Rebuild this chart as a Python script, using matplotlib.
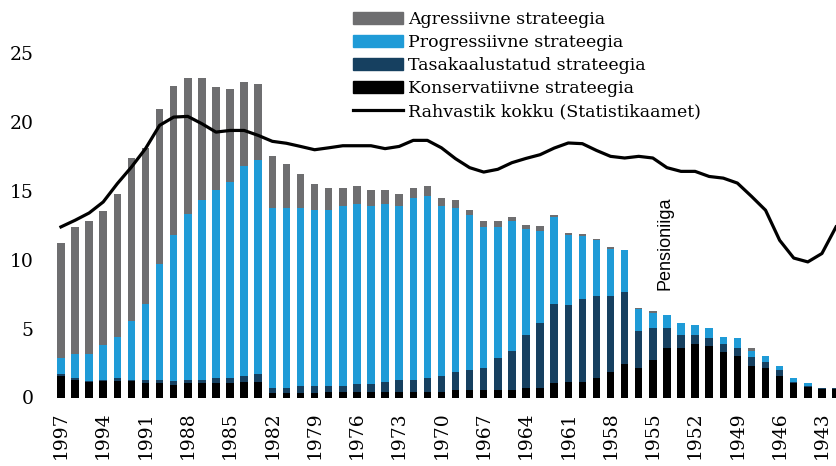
import numpy as np
import matplotlib.pyplot as plt
from matplotlib.patches import Patch
from matplotlib.lines import Line2D

# sünniaastad 1997 ... 1942
years = list(range(1997, 1941, -1))

konservatiivne = [1.56, 1.27, 1.15, 1.20, 1.20, 1.20, 1.03, 1.03, 0.92, 1.03,
                  1.03, 1.03, 1.03, 1.15, 1.15, 0.30, 0.30, 0.30, 0.30, 0.37,
                  0.41, 0.41, 0.41, 0.41, 0.41, 0.41, 0.41, 0.41, 0.53, 0.53,
                  0.53, 0.53, 0.53, 0.71, 0.71, 1.03, 1.15, 1.15, 1.44, 1.87,
                  2.43, 2.11, 2.72, 3.56, 3.56, 3.85, 3.73, 3.27, 3.03, 2.31,
                  2.11, 1.56, 1.03, 0.74, 0.59, 0.59]
tasakaalustatud = [0.14, 0.12, 0.07, 0.07, 0.24, 0.07, 0.24, 0.24, 0.28, 0.24,
                   0.24, 0.41, 0.41, 0.44, 0.55, 0.41, 0.41, 0.53, 0.53, 0.46,
                   0.42, 0.57, 0.57, 0.71, 0.86, 0.86, 1.00, 1.15, 1.32, 1.46,
                   1.58, 2.31, 2.86, 3.82, 4.71, 5.79, 5.55, 5.99, 5.96, 5.53,
                   5.24, 2.73, 2.29, 1.45, 0.97, 0.68, 0.56, 0.58, 0.53, 0.65,
                   0.44, 0.43, 0.12, 0.12, 0.08, 0.08]
progressiivne = [1.14, 1.74, 1.91, 2.53, 2.97, 4.27, 5.55, 8.40, 10.58, 12.03,
                 13.09, 13.64, 14.20, 15.19, 15.50, 13.07, 13.07, 12.95, 12.81, 12.81,
                 13.10, 13.09, 12.95, 12.95, 12.66, 13.23, 13.24, 12.37, 11.93, 11.23,
                 10.27, 9.54, 9.40, 7.68, 6.65, 6.28, 5.08, 4.56, 4.01, 3.41,
                 3.02, 1.55, 1.09, 0.97, 0.89, 0.72, 0.72, 0.56, 0.73, 0.45,
                 0.45, 0.32, 0.27, 0.16, 0.00, 0.00]
agressiivne = [8.40, 9.25, 9.66, 9.71, 10.39, 11.84, 11.31, 11.23, 10.86, 9.90,
               8.84, 7.42, 6.72, 6.15, 5.57, 3.72, 3.14, 2.46, 1.88, 1.59,
               1.30, 1.28, 1.11, 0.97, 0.87, 0.73, 0.70, 0.57, 0.58, 0.42,
               0.41, 0.41, 0.31, 0.34, 0.36, 0.12, 0.16, 0.15, 0.12, 0.12,
               0.03, 0.14, 0.17, 0.00, 0.00, 0.00, 0.00, 0.00, 0.00, 0.15,
               0.00, 0.00, 0.00, 0.00, 0.00, 0.00]
rahvastik = [12.38, 12.86, 13.39, 14.19, 15.52, 16.72, 18.06, 19.75, 20.35, 20.40,
             19.87, 19.26, 19.38, 19.38, 19.02, 18.59, 18.45, 18.22, 17.98, 18.12,
             18.27, 18.27, 18.27, 18.06, 18.22, 18.66, 18.66, 18.12, 17.33, 16.68,
             16.36, 16.56, 17.04, 17.35, 17.62, 18.10, 18.47, 18.42, 17.93, 17.50,
             17.38, 17.50, 17.38, 16.68, 16.41, 16.41, 16.04, 15.92, 15.56, 14.60,
             13.59, 11.41, 10.12, 9.84, 10.45, 12.38]

c_agr = "#6e6e70"
c_prog = "#1f9bd7"
c_tasa = "#164060"
c_kons = "#000000"

plt.rcParams["font.family"] = "DejaVu Serif"

x = np.arange(len(years))
fig = plt.figure(figsize=(8.37, 4.66), dpi=100)
ax = fig.add_axes([46 / 837, 68.5 / 466, 791 / 837, 344.5 / 466])

w = 0.53
bottom = np.zeros(len(years))
for vals, col in [(konservatiivne, c_kons), (tasakaalustatud, c_tasa),
                  (progressiivne, c_prog), (agressiivne, c_agr)]:
    ax.bar(x, vals, w, bottom=bottom, color=col, linewidth=0)
    bottom += np.array(vals)

ax.plot(x, rahvastik, color="black", linewidth=2.3, solid_joinstyle="round")

ax.text(42.9, 11.16, "Pensioniiga", rotation=90, ha="center", va="center",
        family="Liberation Sans", fontsize=13)

ax.set_xlim(-1.06, 55.07)
ax.set_ylim(0, 25)
ax.set_yticks(range(0, 26, 5))
ax.set_xticks(x[::3])
ax.set_xticklabels([str(y) for y in years[::3]], rotation=90)
ax.tick_params(axis="x", length=0, pad=10, labelsize=13.5)
ax.tick_params(axis="y", length=0, pad=9, labelsize=13.5)
for s in ax.spines.values():
    s.set_visible(False)

handles = [Patch(color=c_agr), Patch(color=c_prog), Patch(color=c_tasa),
           Patch(color=c_kons), Line2D([], [], color="black", linewidth=2.3)]
labels = ["Agressiivne strateegia", "Progressiivne strateegia",
          "Tasakaalustatud strateegia", "Konservatiivne strateegia",
          "Rahvastik kokku (Statistikaamet)"]
fig.legend(handles, labels, loc="upper left", bbox_to_anchor=(353 / 837, 1 - 10.7 / 466),
           frameon=False, fontsize=12.5, borderpad=0, borderaxespad=0,
           handlelength=2.87, handleheight=0.69, handletextpad=0.3,
           labelspacing=0.35)

fig.savefig("out.png", dpi=100)
